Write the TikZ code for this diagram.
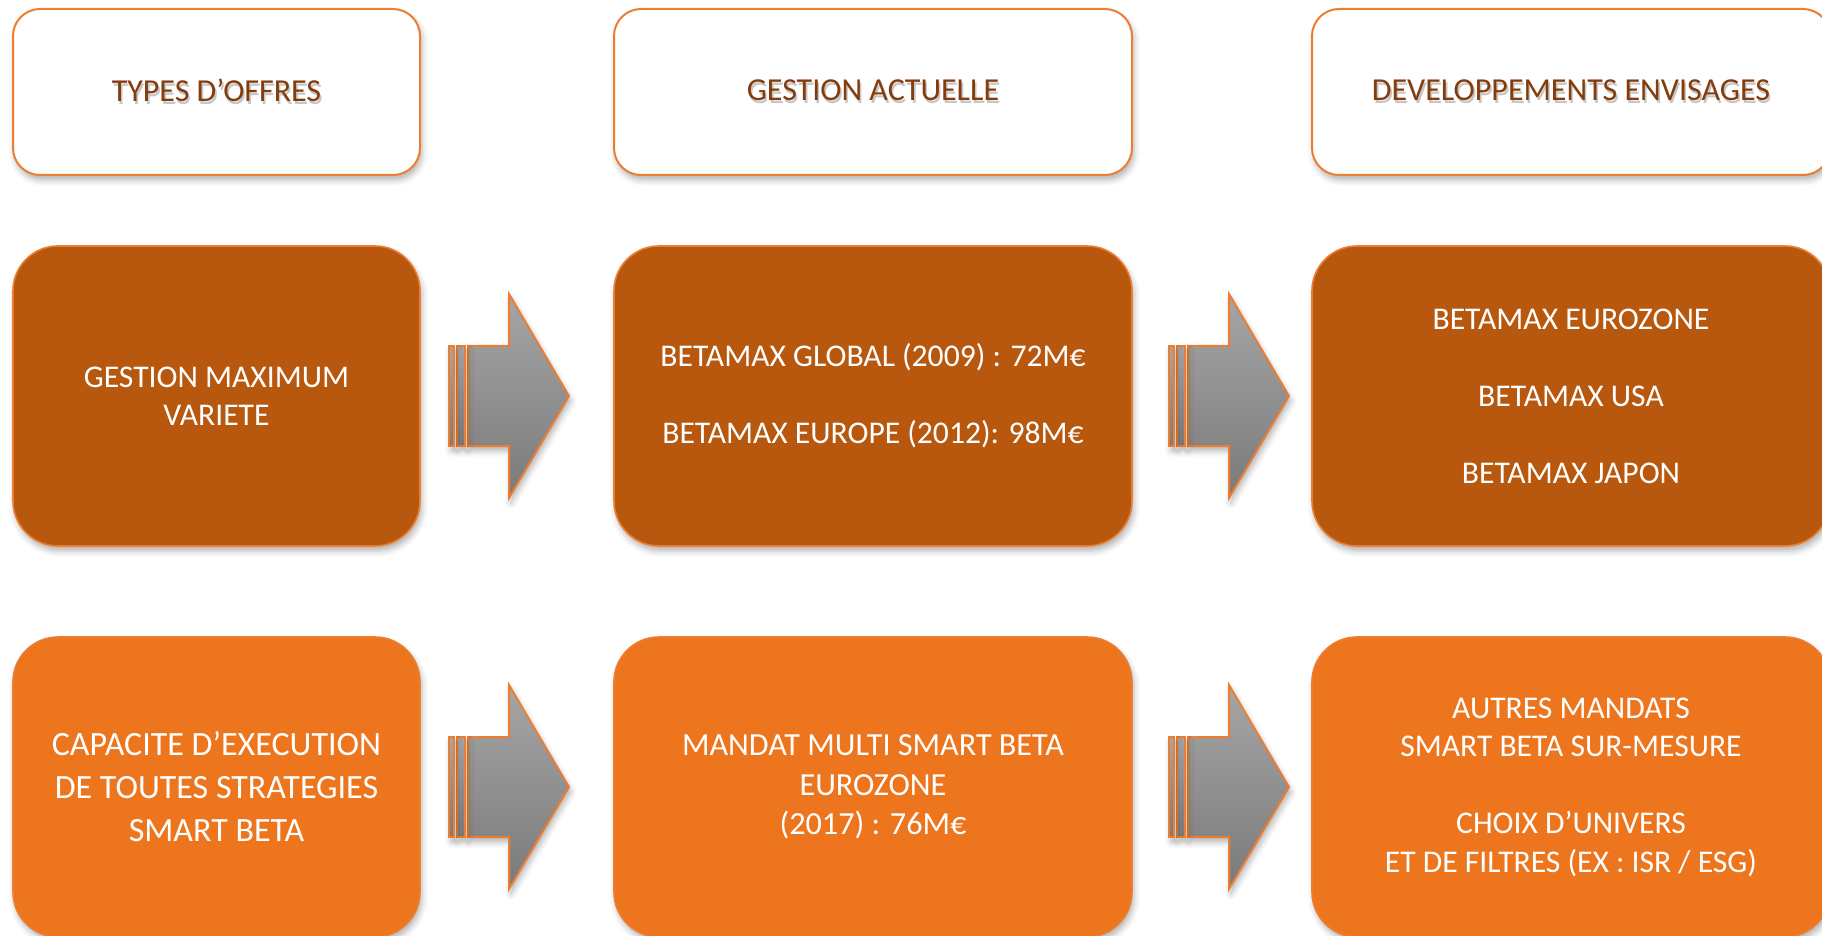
\documentclass[tikz,border=0pt]{standalone}
\usepackage{fontspec}
\setmainfont{Carlito}
\usepackage{xcolor}
\usetikzlibrary{positioning, calc, shadows.blur}

\definecolor{rust}{RGB}{183,88,14}
\definecolor{tangerine}{RGB}{236,117,30}
\definecolor{rim}{RGB}{237,125,49}
\definecolor{titlebrown}{RGB}{132,60,12}

% title text with a light shadow under it
\newcommand\hazy[1]{\makebox[0pt][l]{\hspace{0.8pt}\raisebox{-1.4pt}{\textcolor{black!22}{#1}}}#1}

\begin{document}
\begin{tikzpicture}[
    x=0.5pt, y=-0.5pt,
    soft/.style = {blur shadow={shadow xshift=1pt, shadow yshift=-2.5pt,
                   shadow blur radius=3pt, shadow opacity=30}},
    title/.style = {rectangle, rounded corners=13.5pt, draw=rim, line width=1pt,
                    fill=white, minimum height=83pt, outer sep=0pt, align=center,
                    text=titlebrown, font=\fontsize{16}{19}\selectfont, soft},
    offer/.style = {rectangle, rounded corners=22.5pt, draw=rim, line width=0.8pt,
                    minimum height=150pt, outer sep=0pt, align=center, text=white,
                    font=\fontsize{15.8}{19.25}\selectfont, soft},
    older/.style = {offer, fill=rust},
    newer/.style = {offer, fill=tangerine},
    narrow/.style = {minimum width=203.5pt},
    wide/.style = {minimum width=259pt},
    bar/.style = {draw=rim, line width=1pt, top color=black!35, bottom color=black!52, soft},
    fatarrow/.pic = {
        \path[bar] (-101,-50) -- (-60,-50) -- (-60,-102) -- (0,0)
                   -- (-60,102) -- (-60,50) -- (-101,50) -- cycle;
        \path[bar] (-112,-50) rectangle (-104,50);
        \path[bar] (-120,-50) rectangle (-115,50);
    }
]
\useasboundingbox (0,0) rectangle (1822,936);

% Column titles
\node[title, narrow] (types) at (216.5,92) {\hazy{TYPES D’OFFRES}};
\node[title, wide, right=97pt of types] (current) {\hazy{GESTION ACTUELLE}};
\node[title, wide, right=90pt of current] (plans) {\hazy{DEVELOPPEMENTS ENVISAGES}};

% Maximum variete
\node[older, narrow, below=35.5pt of types] (maxvar) {GESTION MAXIMUM\\VARIETE};
\node[older, wide, right=97pt of maxvar] (betaglobal)
    {BETAMAX GLOBAL (2009) : 72M€\\[19.25pt]BETAMAX EUROPE (2012): 98M€};
\node[older, wide, right=90pt of betaglobal] (betazone)
    {BETAMAX EUROZONE\\[19.25pt]BETAMAX USA\\[19.25pt]BETAMAX JAPON};

% Smart beta
\node[newer, narrow, below=45.5pt of maxvar, font=\fontsize{17}{21.5}\selectfont] (allstrat)
    {CAPACITE D’EXECUTION\\DE TOUTES STRATEGIES\\SMART BETA};
\node[newer, wide, right=97pt of allstrat, font=\fontsize{16.1}{19.75}\selectfont] (mandat)
    {MANDAT MULTI SMART BETA\\EUROZONE\\(2017) : 76M€};
\node[newer, wide, right=90pt of mandat] (custom)
    {AUTRES MANDATS\\SMART BETA SUR-MESURE\\[19.25pt]CHOIX D’UNIVERS\\ET DE FILTRES (EX : ISR / ESG)};

% Arrows
\pic at ([xshift=-22.5pt]betaglobal.west) {fatarrow};
\pic at ([xshift=-11.5pt]betazone.west) {fatarrow};
\pic at ([xshift=-22.5pt]mandat.west) {fatarrow};
\pic at ([xshift=-11.5pt]custom.west) {fatarrow};

\end{tikzpicture}
\end{document}
